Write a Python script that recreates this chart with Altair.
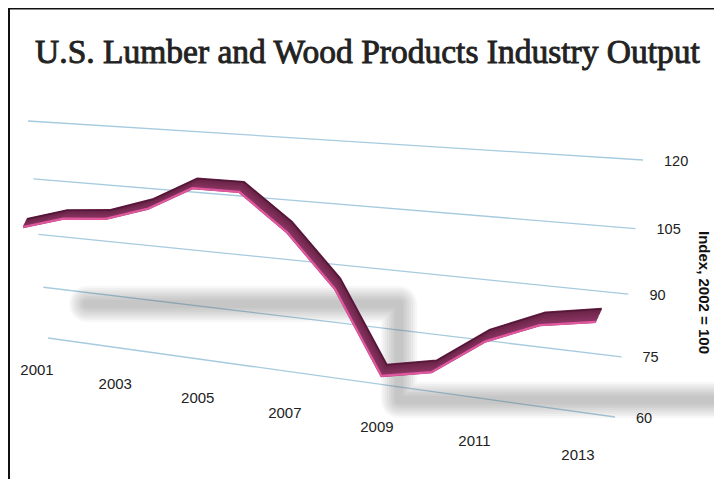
import altair as alt
import pandas as pd

# ---- data ----
years = [2001, 2002, 2003, 2004, 2005, 2006, 2007, 2008, 2009, 2010, 2011, 2012, 2013]
values = [91.6, 95.0, 96.0, 99.8, 106.0, 106.0, 96.9, 83.7, 62.3, 65.1, 74.7, 80.4, 82.7]
y_ticks = [60, 75, 90, 105, 120]
x_ticks = [2001, 2003, 2005, 2007, 2009, 2011, 2013]
title_text = "U.S. Lumber and Wood Products Industry Output"
y_title = "Index, 2002 = 100"

W, H = 706, 471

series = pd.DataFrame({"year": years, "value": values})
grid = pd.DataFrame({"value": y_ticks})
xlab = pd.DataFrame({"year": x_ticks})
ttl = pd.DataFrame({"label": [title_text]})
ytl = pd.DataFrame({"label": [y_title]})

# page-pixel scales (perspective projection is done with calculate transforms)
XS = alt.Scale(domain=[8, 8 + W], nice=False, zero=False)
YS = alt.Scale(domain=[8, 8 + H], nice=False, zero=False, reverse=True)

# perspective helpers
U = "(datum.year - 2001) / 12"
P = "datum.u / (1.183 - 0.183 * datum.u)"
S = "(datum.value - 60) / 60"
Wd = "datum.s / (1.092 - 0.092 * datum.s)"
XL = "48 - 20 * datum.w"
XR = "615 + 28 * datum.w"
YL = "338 - 217 * datum.w"
YR = "417 - 257 * datum.w"


def plane(chart):
    return chart.transform_calculate(
        s=S, w=Wd, xl=XL, xr=XR, yl=YL, yr=YR
    )


def line_base():
    c = alt.Chart(series).transform_calculate(u=U, p=P, t="-0.025 + 0.975 * datum.p")
    c = plane(c)
    return c.transform_calculate(
        px="datum.xl + datum.t * (datum.xr - datum.xl)",
        py="datum.yl + datum.t * (datum.yr - datum.yl)",
    )


# gridlines
gridlines = plane(alt.Chart(grid)).transform_calculate(
    tt="[0, 1]"
).transform_flatten(["tt"]).transform_calculate(
    gx="datum.xl + datum.tt * (datum.xr - datum.xl)",
    gy="datum.yl + datum.tt * (datum.yr - datum.yl)",
).mark_line(color="#a6cbdf", strokeWidth=1.3).encode(
    x=alt.X("gx:Q", scale=XS, axis=None),
    y=alt.Y("gy:Q", scale=YS, axis=None),
    detail="value:Q",
    order="tt:Q",
)

# value labels
vlabels = plane(alt.Chart(grid)).transform_calculate(
    lx="datum.xr + 21", ly="datum.yr + 1.5"
).mark_text(
    align="left", baseline="middle", font="Liberation Sans", fontSize=14.5, color="#222222"
).encode(
    x=alt.X("lx:Q", scale=XS, axis=None),
    y=alt.Y("ly:Q", scale=YS, axis=None),
    text=alt.Text("value:Q", format="d"),
)

# year labels
ylabels = alt.Chart(xlab).transform_calculate(u=U, p=P).transform_calculate(
    lx="37 + 541 * datum.p", ly="370 + 85 * datum.u"
).mark_text(
    align="center", baseline="middle", font="Liberation Sans", fontSize=15, color="#222222"
).encode(
    x=alt.X("lx:Q", scale=XS, axis=None),
    y=alt.Y("ly:Q", scale=YS, axis=None),
    text=alt.Text("year:Q", format="d"),
)

# soft shadow (many faint strokes give a blurred look)
shadow_src = line_base().transform_calculate(
    sx="datum.px + 64 + max(0, datum.year - 2008) * 15",
    sy="datum.year <= 2008 ? 304 : 400",
)
shadows = []
for sw in [36, 32, 28, 24, 20, 16, 12, 8]:
    shadows.append(
        shadow_src.mark_line(
            color="#5c5c5c", opacity=0.05, strokeWidth=sw, strokeCap="round",
            strokeJoin="round", interpolate="step-before"
        ).encode(
            x=alt.X("sx:Q", scale=XS, axis=None),
            y=alt.Y("sy:Q", scale=YS, axis=None),
            order="year:Q",
        )
    )

# ribbon body
band = line_base().transform_calculate(
    ks="sequence(0, 1.05, 0.1)"
).transform_flatten(["ks"]).transform_calculate(
    bx="datum.px + datum.ks * (4 + 2 * datum.t)",
    by="datum.py - datum.ks * (8 + 5 * datum.t)",
).mark_line(strokeWidth=2.4, strokeJoin="round").encode(
    x=alt.X("bx:Q", scale=XS, axis=None),
    y=alt.Y("by:Q", scale=YS, axis=None),
    detail="ks:Q",
    order="year:Q",
    color=alt.Color("ks:Q", scale=alt.Scale(domain=[0, 1], range=["#92386a", "#6a2447"]), legend=None),
)

top_edge = line_base().transform_calculate(
    bx="datum.px + (4 + 2 * datum.t)",
    by="datum.py - (8 + 5 * datum.t)",
).mark_line(color="#501538", strokeWidth=1.2, strokeJoin="round").encode(
    x=alt.X("bx:Q", scale=XS, axis=None),
    y=alt.Y("by:Q", scale=YS, axis=None),
    order="year:Q",
)

front = line_base().mark_line(color="#e2589e", strokeWidth=2.2, strokeJoin="round").encode(
    x=alt.X("px:Q", scale=XS, axis=None),
    y=alt.Y("py:Q", scale=YS, axis=None),
    order="year:Q",
)

title = alt.Chart(ttl).mark_text(
    font="Liberation Serif", fontSize=33.5, fontWeight="normal", color="#222222",
    stroke="#222222", strokeWidth=0.9,
    align="center", baseline="alphabetic"
).encode(x=alt.value(359.5), y=alt.value(55), text="label:N")

ytitle = alt.Chart(ytl).mark_text(
    font="Liberation Sans", fontSize=15, fontWeight="bold", color="#111111",
    align="center", baseline="middle", angle=90
).encode(x=alt.value(696), y=alt.value(284.5), text="label:N")

frame_left = alt.Chart(ttl).mark_rule(color="#111111", strokeWidth=2).encode(
    x=alt.value(1), y=alt.value(0), y2=alt.value(H)
)
frame_top = alt.Chart(ttl).mark_rule(color="#111111", strokeWidth=1.5).encode(
    x=alt.value(0), x2=alt.value(W), y=alt.value(0.75)
)

chart = alt.layer(
    gridlines, *shadows, band, top_edge, front, vlabels, ylabels, title, ytitle,
    frame_left, frame_top
).properties(
    width=W, height=H, padding=0, autosize=alt.AutoSizeParams(type="none")
).configure_view(stroke=None).configure(background="white")

chart.save("out.html", embed_options={"renderer": "svg", "actions": False})
